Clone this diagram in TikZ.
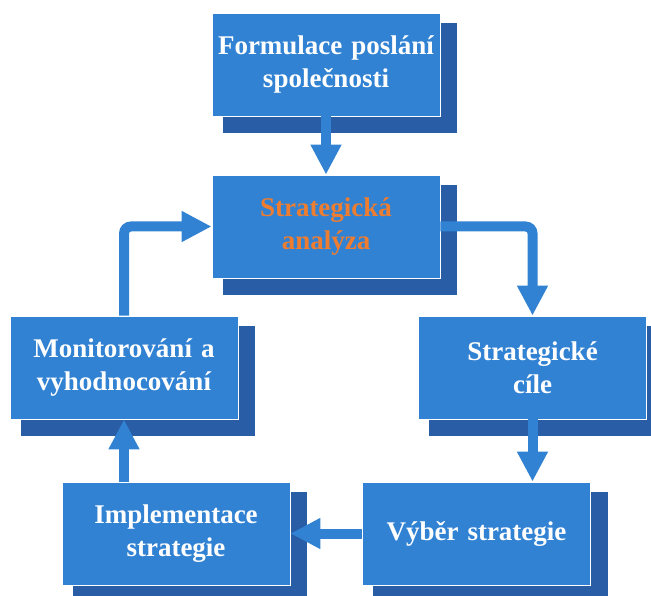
\documentclass[tikz,border=0pt]{standalone}
\usepackage{fontspec}
\setmainfont{Liberation Serif}
\usetikzlibrary{arrows.meta,calc}
\definecolor{boxc}{RGB}{49,130,211}
\definecolor{shadc}{RGB}{41,93,166}
\definecolor{orangec}{RGB}{237,125,49}
\tikzset{
  stepbox/.style={rectangle, fill=boxc, draw=white, line width=0.8pt,
    minimum width=228pt, minimum height=103pt, inner sep=0pt,
    text width=224pt, align=center, text=white,
    font=\fontsize{27}{33}\selectfont\bfseries},
  arr/.style={draw=boxc, line width=10pt,
    -{Triangle[length=30pt,width=29pt]}},
}
\newcommand{\boxshadow}[1]{%
  \fill[shadc] ($(#1.north west)+(11pt,-10pt)$) rectangle ($(#1.south east)+(17pt,-17pt)$);}
\begin{document}
\begin{tikzpicture}[x=1pt,y=-1pt]
\useasboundingbox (0,0) rectangle (651,596);
% shadows (drawn first, via placeholder nodes)
\path
  (326,64.5) node[stepbox, draw=none, fill=none] (s1) {}
  (326,226.5) node[stepbox, draw=none, fill=none] (s2) {}
  (532.5,367.5) node[stepbox, draw=none, fill=none] (s3) {}
  (476.5,533.5) node[stepbox, draw=none, fill=none] (s4) {}
  (176,533.5) node[stepbox, draw=none, fill=none] (s5) {}
  (124,367.5) node[stepbox, draw=none, fill=none] (s6) {};
\boxshadow{s1}
\boxshadow{s2}
\boxshadow{s3}
\boxshadow{s4}
\boxshadow{s5}
\boxshadow{s6}
% boxes
\node[stepbox] (b1) at (326,64.5) {Formulace poslání\\společnosti};
\node[stepbox, text=orangec] (b2) at (326,226.5) {Strategická\\analýza};
\node[stepbox] (b3) at (532.5,367.5) {Strategické\\cíle};
\node[stepbox] (b4) at (476.5,533.5) {Výběr strategie};
\node[stepbox] (b5) at (176,533.5) {Implementace\\strategie};
\node[stepbox] (b6) at (124,367.5) {Monitorování a\\vyhodnocování};
% connectors
\draw[arr] (b1.south) -- (b2.north);
\draw[arr, rounded corners=7pt] (b2.east) -| (b3.north);
\draw[arr] (b3.south) -- (b3.south |- b4.north);
\draw[arr] (b4.west) -- (b5.east);
\draw[arr] (b6.south |- b5.north) -- (b6.south);
\draw[arr, rounded corners=7pt] (b6.north) |- (b2.west);
\end{tikzpicture}
\end{document}
